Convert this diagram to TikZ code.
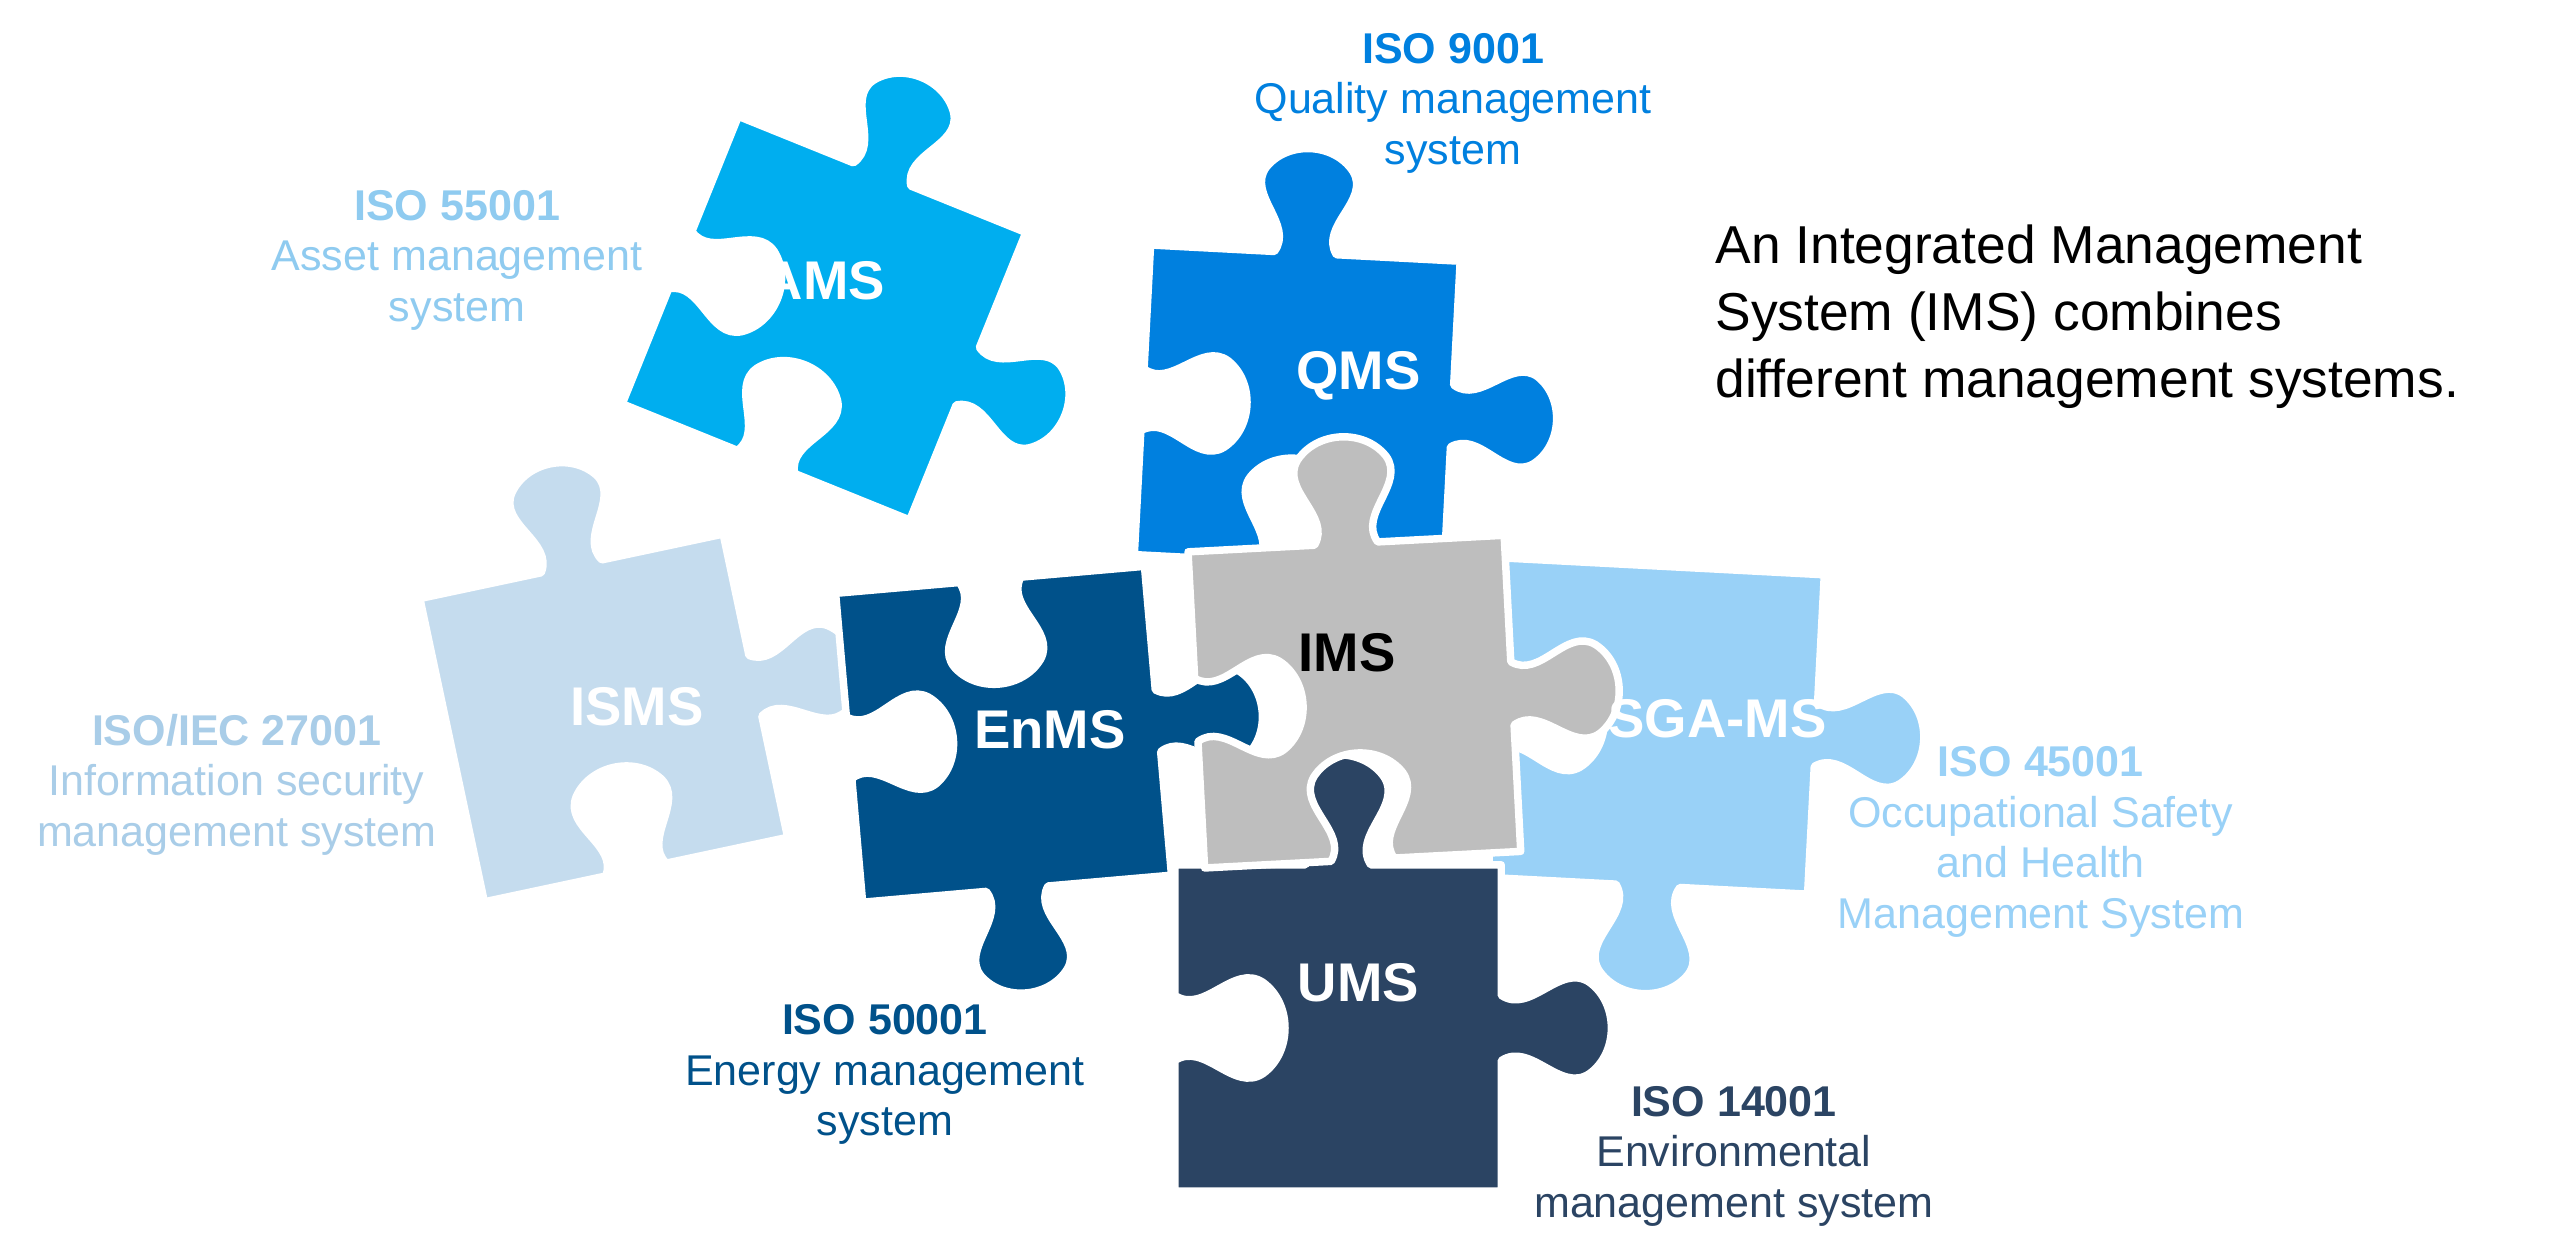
\documentclass[tikz,border=0pt]{standalone}
\usepackage{fontspec}
\setmainfont{Liberation Sans}
\definecolor{cAMS}{HTML}{00AEEF}
\definecolor{cQMS}{HTML}{0080DF}
\definecolor{cISMS}{HTML}{C5DCEE}
\definecolor{cEnMS}{HTML}{00518A}
\definecolor{cIMS}{HTML}{BEBEBE}
\definecolor{cSGA}{HTML}{99D1F7}
\definecolor{cUMS}{HTML}{2B4463}
\definecolor{tAMS}{HTML}{8FCBF0}
\definecolor{tISMS}{HTML}{A9CDE8}
\def\Mt#1#2#3{(#2,{1+(#3)*(#1)})}
\def\Mr#1#2#3{({1+(#3)*(#1)},{-(#2)})}
\def\Mb#1#2#3{({-(#2)},{-1-(#3)*(#1)})}
\def\Ml#1#2#3{({-1-(#3)*(#1)},#2)}
\newcommand\edgepath[2]{-- #1{#2}{-1}{0} -- #1{#2}{-0.2}{0} .. controls #1{#2}{-0.08}{0.18} and #1{#2}{-0.4}{0.36} .. #1{#2}{-0.28}{0.54} .. controls #1{#2}{-0.15}{0.72} and #1{#2}{0.15}{0.72} .. #1{#2}{0.28}{0.54} .. controls #1{#2}{0.4}{0.36} and #1{#2}{0.08}{0.18} .. #1{#2}{0.2}{0} -- #1{#2}{1}{0}}
% cx cy half rot T R B L colour
\newcommand\puzzlepiece[9]{%
  \begin{scope}[shift={(#1*0.01,7.66-#2*0.01)},scale=#3*0.01,rotate=#4]
    \path[fill=#9,draw=white,line width=1.3pt,line join=round]
      (-1,1) \edgepath\Mt{#5} \edgepath\Mr{#6} \edgepath\Mb{#7} \edgepath\Ml{#8} -- cycle;
  \end{scope}}
\tikzset{
  plabel/.style={font=\fontsize{9.5}{11}\selectfont\bfseries,text=white},
  desc/.style={font=\fontsize{7.5}{8.8}\selectfont,align=center}
}
\begin{document}
\begin{tikzpicture}
\path[use as bounding box,fill=white] (0,0) rectangle (15.68,7.66);
\puzzlepiece{505}{195}{95}{-22}{1}{1}{-1}{-1}{cAMS}
\puzzlepiece{370}{440}{95}{12}{1}{1}{-1}{0}{cISMS}
\puzzlepiece{795}{250}{95}{-3}{1}{1}{-1}{-1}{cQMS}
\puzzlepiece{1015}{445}{98}{-3}{0}{1}{1}{-1}{cSGA}
\puzzlepiece{820}{630}{100}{0}{1}{1}{0}{-1}{cUMS}
\puzzlepiece{615}{450}{95}{5}{-1}{1}{1}{-1}{cEnMS}
\puzzlepiece{830}{430}{97}{3}{1}{1}{-1}{-1}{cIMS}
\node[plabel] (lams) at (5.05,7.66-1.72) {AMS};
\node[plabel] (lqms) at (8.32,7.66-2.30) {QMS};
\node[plabel] (lisms) at (3.90,7.66-4.33) {ISMS};
\node[plabel] (lenms) at (6.43,7.66-4.47) {EnMS};
\node[plabel,text=black] (lims) at (8.25,7.66-4.00) {IMS};
\node[plabel] (lsga) at (10.52,7.66-4.40) {SGA-MS};
\node[plabel] (lums) at (8.32,7.66-6.02) {UMS};
\node[desc,text=cQMS,anchor=north] (t9001) at (8.90,7.66-0.08) {{\bfseries ISO 9001}\\Quality management\\system};
\node[desc,text=tAMS,anchor=north] (t55001) at (2.80,7.66-1.04) {{\bfseries ISO 55001}\\Asset management\\system};
\node[desc,text=tISMS,anchor=north] (t27001) at (1.45,7.66-4.25) {{\bfseries ISO/IEC 27001}\\Information security\\management system};
\node[desc,text=cSGA,anchor=north] (t45001) at (12.50,7.66-4.45) {{\bfseries ISO 45001}\\Occupational Safety\\and Health\\Management System};
\node[desc,text=cEnMS,anchor=north] (t50001) at (5.42,7.66-6.03) {{\bfseries ISO 50001}\\Energy management\\system};
\node[desc,text=cUMS,anchor=north] (t14001) at (10.62,7.66-6.53) {{\bfseries ISO 14001}\\Environmental\\management system};
\node[anchor=north west,align=left,inner sep=0pt,font=\fontsize{9.3}{11.7}\selectfont] (ims) at (10.50,7.66-1.37) {An Integrated Management\\System (IMS) combines\\different management systems.};
\end{tikzpicture}
\end{document}
